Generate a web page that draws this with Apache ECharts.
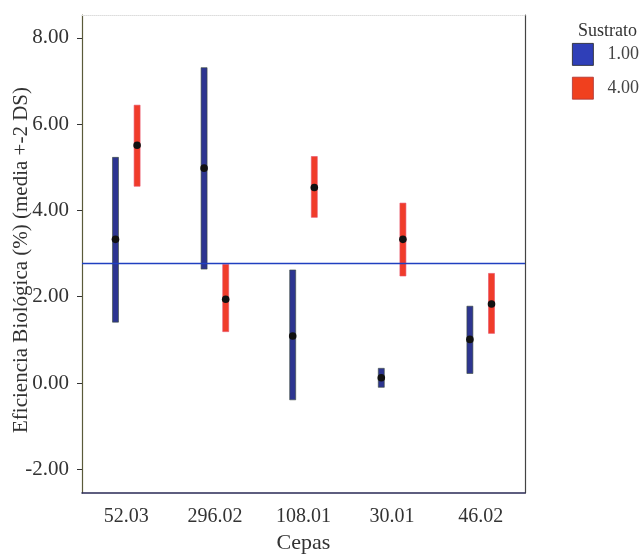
<!DOCTYPE html>
<html>
<head>
<meta charset="utf-8">
<script src="https://cdn.jsdelivr.net/npm/echarts@6/dist/echarts.min.js"></script>
<style>html,body{margin:0;padding:0;background:#fff}#c{width:642px;height:554px}</style>
</head>
<body>
<div id="c"></div>
<script>
const categories = ['52.03', '296.02', '108.01', '30.01', '46.02'];
const groups = ['1.00', '4.00'];
// Sustrato 1.00: mean, lower (mean-2DS), upper (mean+2DS)
const mean1 = [3.33, 4.98, 1.09, 0.12, 1.01];
const low1  = [1.41, 2.64, -0.39, -0.10, 0.22];
const high1 = [5.23, 7.31, 2.62, 0.34, 1.78];
// Sustrato 4.00
const mean4 = [5.51, 1.94, 4.53, 3.33, 1.83];
const low4  = [4.56, 1.19, 3.84, 2.48, 1.15];
const high4 = [6.44, 2.75, 5.25, 4.17, 2.54];
const refLine = 2.78;
const yTicks = [-2, 0, 2, 4, 6, 8];

const FONT = 'Liberation Serif';
const colors = ['#2d3590', '#f03c2a'];
const offsets = [-0.122, 0.122];

function rangeSeries(idx, lo, hi) {
  return {
    type: 'custom',
    name: groups[idx],
    data: categories.map((c, i) => [i, lo[i], hi[i]]),
    renderItem: function (params, api) {
      const band = api.size([1, 0])[0];
      const p1 = api.coord([api.value(0), api.value(1)]);
      const p2 = api.coord([api.value(0), api.value(2)]);
      const x = p1[0] + offsets[idx] * band;
      const w = 6;
      return {
        type: 'rect',
        shape: { x: x - w / 2, y: p2[1], width: w, height: p1[1] - p2[1] },
        style: { fill: colors[idx], stroke: idx === 0 ? '#3a4a3a' : '#e8506a', lineWidth: 0.6 }
      };
    },
    encode: { x: 0, y: [1, 2] },
    z: 2
  };
}

function meanSeries(idx, m) {
  return {
    type: 'custom',
    name: 'media ' + groups[idx],
    data: categories.map((c, i) => [i, m[i]]),
    renderItem: function (params, api) {
      const band = api.size([1, 0])[0];
      const p = api.coord([api.value(0), api.value(1)]);
      return {
        type: 'circle',
        shape: { cx: p[0] + offsets[idx] * band, cy: p[1], r: 3.8 },
        style: { fill: '#111' }
      };
    },
    encode: { x: 0, y: 1 },
    z: 5
  };
}

const chart = echarts.init(document.getElementById('c'));
const s1 = rangeSeries(0, low1, high1);
s1.markLine = {
  silent: true, symbol: ['none', 'none'],
  label: { show: false },
  lineStyle: { color: '#2040c0', width: 1.3, type: 'solid', opacity: 1 },
  data: [{ yAxis: refLine, lineStyle: { color: '#2040c0' } }]
};

chart.setOption({
  animation: false,
  backgroundColor: '#fff',
  textStyle: { fontFamily: FONT },
  grid: { left: 82, right: 117, top: 15, bottom: 61, containLabel: false, outerBoundsMode: 'none' },
  title: {
    text: 'Sustrato', left: 573, top: 17,
    textStyle: { fontFamily: FONT, fontSize: 18, fontWeight: 'normal', color: '#333' }
  },
  legend: {
    data: [
      { name: '1.00', itemStyle: { color: '#2f3fb8', borderColor: '#222', borderWidth: 0.8 } },
      { name: '4.00', itemStyle: { color: '#f0401e', borderColor: '#a33', borderWidth: 0.8 } }
    ],
    orient: 'vertical', left: 567, top: 38, padding: 5,
    icon: 'rect', itemWidth: 21, itemHeight: 22, itemGap: 11,
    textStyle: { fontFamily: FONT, fontSize: 18, color: '#444', padding: [0, 0, 0, 9] }
  },
  xAxis: [{
    type: 'category', data: categories, position: 'bottom',
    boundaryGap: true,
    axisLine: { onZero: false, lineStyle: { color: '#2a2a55', width: 1.5 } },
    name: 'Cepas', nameLocation: 'middle', nameGap: 39, nameMoveOverlap: false,
    nameTextStyle: { fontFamily: FONT, fontSize: 22, color: '#333' },
    axisTick: { alignWithLabel: true, length: 5, lineStyle: { color: '#333' } },
    axisLabel: { fontFamily: FONT, fontSize: 20, color: '#333', margin: 14 },
    splitLine: { show: false }
  }, {
    type: 'category', data: categories, position: 'top',
    axisLine: { show: true, onZero: false, lineStyle: { color: '#ddd', width: 1, type: 'dotted' } },
    axisTick: { show: false }, axisLabel: { show: false }, splitLine: { show: false }
  }],
  yAxis: [{
    type: 'value', min: -2.55, max: 8.53,
    name: 'Eficiencia Biológica (%) (media +-2 DS)',
    nameLocation: 'middle', nameGap: 50, nameMoveOverlap: false,
    nameTextStyle: { fontFamily: FONT, fontSize: 21, color: '#333', padding: [0, 12, 0, 0] },
    axisLine: { show: true, onZero: false, lineStyle: { color: '#5a5a3a', width: 1.2 } },
    axisTick: { show: true, length: 5, customValues: yTicks, lineStyle: { color: '#333' } },
    axisLabel: {
      fontFamily: FONT, fontSize: 21, color: '#333', margin: 13,
      customValues: yTicks, formatter: v => v.toFixed(2)
    },
    splitLine: { show: false }
  }, {
    type: 'value', min: -2.55, max: 8.53, position: 'right',
    axisLine: { show: true, onZero: false, lineStyle: { color: '#444', width: 1.2 } },
    axisTick: { show: false }, axisLabel: { show: false }, splitLine: { show: false }
  }],
  series: [
    s1,
    rangeSeries(1, low4, high4),
    meanSeries(0, mean1),
    meanSeries(1, mean4)
  ]
});
</script>
</body>
</html>
